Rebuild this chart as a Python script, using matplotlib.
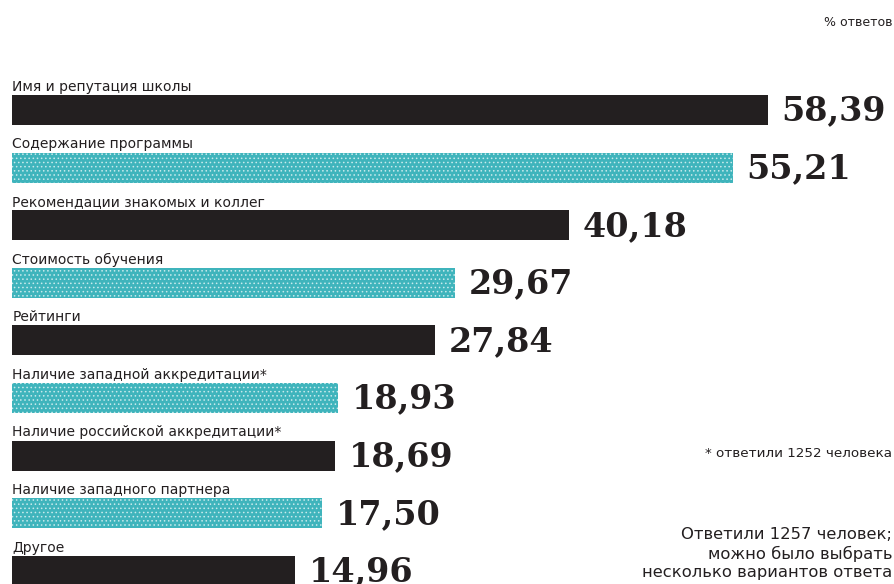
import numpy as np
import matplotlib
matplotlib.use("Agg")
import matplotlib.pyplot as plt
from matplotlib import font_manager

# answers, % of respondents
reasons = ["Имя и репутация школы",
           "Содержание программы",
           "Рекомендации знакомых и коллег",
           "Стоимость обучения",
           "Рейтинги",
           "Наличие западной аккредитации*",
           "Наличие российской аккредитации*",
           "Наличие западного партнера",
           "Другое"]
shares = [58.39, 55.21, 40.18, 29.67, 27.84, 18.93, 18.69, 17.50, 14.96]
value_labels = ["58,39", "55,21", "40,18", "29,67", "27,84", "18,93", "18,69", "17,50", "14,96"]

unit_note = "% ответов"
star_note = "* ответили 1252 человека"
total_note = "Ответили 1257 человек;\nможно было выбрать\nнесколько вариантов ответа"

black = "#231f20"
teal = "#3fb4bc"

# pick a condensed sans for the captions if there is one
names = {f.name for f in font_manager.fontManager.ttflist}
narrow = "Liberation Sans Narrow" if "Liberation Sans Narrow" in names else "DejaVu Sans"

plt.rcParams["hatch.color"] = "#c8eaec"
plt.rcParams["hatch.linewidth"] = 0.6

fig = plt.figure(figsize=(8.95, 5.84), dpi=100)
ax = fig.add_axes([0, 0, 1, 1])

base = -11.0  # where the bars start on the value scale
ypos = np.arange(len(shares))
bar_h = 0.52

for i, (v, lab, txt) in enumerate(zip(shares, reasons, value_labels)):
    if i % 2 == 0:
        ax.barh(i, v - base, left=base, height=bar_h, color=black, linewidth=0)
    else:
        ax.barh(i, v - base, left=base, height=bar_h, color=teal,
                hatch="....", edgecolor="#c8eaec", linewidth=0)
    ax.text(base, i - bar_h / 2 - 0.02, lab, ha="left", va="bottom",
            fontsize=10, family=narrow, color=black)
    ax.text(v + 1.25, i + 0.02, txt, ha="left", va="center",
            fontsize=24, family="DejaVu Serif", fontweight="bold", color=black)

ax.set_xlim(-12.13, 70.1)
ax.set_ylim(8.23, -1.91)
ax.axis("off")

fig.text(0.997, 0.962, unit_note, ha="right", va="center", fontsize=9, family=narrow, color=black)
fig.text(0.997, 0.224, star_note, ha="right", va="center", fontsize=9.7, family=narrow, color=black)
fig.text(0.997, 0.052, total_note, ha="right", va="center", fontsize=11.8, family=narrow,
         color=black, linespacing=1.3, multialignment="right")

fig.savefig("out.png", dpi=100)
